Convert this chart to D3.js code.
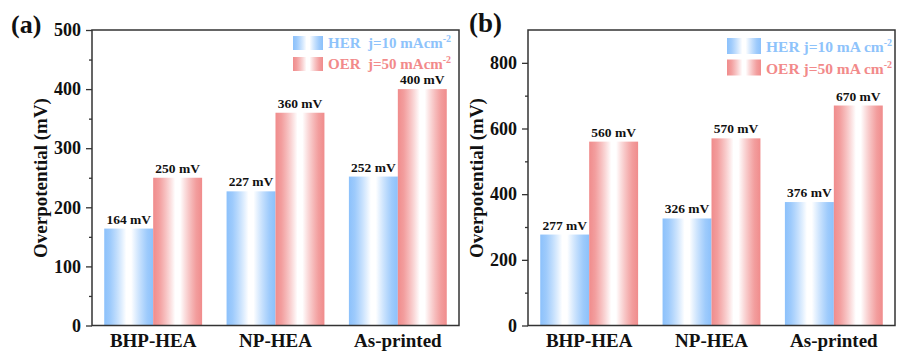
<!DOCTYPE html>
<html lang="en">
<head>
<meta charset="UTF-8">
<title>Overpotential bars</title>
<script src="https://d3js.org/d3.v7.min.js"></script>
<style>
  body { margin: 0; background: #fff; }
  text { font-family: "Liberation Serif", "Times New Roman", serif; font-weight: bold; }
</style>
</head>
<body>
<svg id="svg-container" width="897" height="353"></svg>
<script>
const categories = ["BHP-HEA", "NP-HEA", "As-printed"];
const herA = [164, 227, 252];
const oerA = [250, 360, 400];
const herB = [277, 326, 376];
const oerB = [560, 570, 670];
const ticksA = [0, 100, 200, 300, 400, 500];
const ticksB = [0, 200, 400, 600, 800];

const svg = d3.select("#svg-container");
const defs = svg.append("defs");

function makeGrad(id, col) {
    const g = defs.append("linearGradient").attr("id", id)
        .attr("x1", "0%").attr("x2", "100%").attr("y1", "0%").attr("y2", "0%");
    [[0, col, 1], [0.12, col, 0.85], [0.45, "#ffffff", 1], [0.55, "#ffffff", 1], [0.88, col, 0.85], [1, col, 1]]
        .forEach(s => g.append("stop").attr("offset", s[0]).attr("stop-color", s[1]).attr("stop-opacity", s[2]));
}
makeGrad("gHer", "#8cc1fb");
makeGrad("gOer", "#f08c8c");

const blueTxt = "#8ec3fb", redTxt = "#f28a8a";

function panel(opt) {
    const x = d3.scaleBand().domain(categories).range([opt.x0, opt.x1])
        .paddingInner(0.2).paddingOuter(0.1);
    const y = d3.scaleLinear().domain([0, opt.max]).range([325.5, 30]);
    const g = svg.append("g");

    // bars
    const bw = x.bandwidth() / 2;
    const series = [{vals: opt.her, fill: "url(#gHer)", off: 0}, {vals: opt.oer, fill: "url(#gOer)", off: bw}];
    series.forEach(s => {
        g.selectAll(null).data(categories).enter().append("rect")
            .attr("x", d => x(d) + s.off)
            .attr("y", (d, i) => y(s.vals[i]))
            .attr("width", bw)
            .attr("height", (d, i) => y(0) - y(s.vals[i]))
            .attr("fill", s.fill);
        g.selectAll(null).data(categories).enter().append("text")
            .attr("x", d => x(d) + s.off + bw / 2)
            .attr("y", (d, i) => y(s.vals[i]) - 5)
            .attr("text-anchor", "middle")
            .style("font-size", "13.5px")
            .attr("fill", "#111")
            .text((d, i) => s.vals[i] + " mV");
    });

    // frame
    g.append("rect").attr("x", opt.x0).attr("y", 30)
        .attr("width", opt.x1 - opt.x0).attr("height", 295.5)
        .attr("fill", "none").attr("stroke", "#333").attr("stroke-width", 1.5);

    // y axis with minor ticks
    const yAxis = g.append("g").attr("transform", `translate(${opt.x0},0)`)
        .call(d3.axisLeft(y).tickValues(opt.ticks).tickSize(6).tickPadding(5));
    yAxis.select(".domain").remove();
    yAxis.selectAll("line").attr("stroke", "#333").attr("stroke-width", 1.3);
    yAxis.selectAll("text").style("font-size", "18px").attr("fill", "#111")
        .style("font-family", '"Liberation Serif", serif');
    const minor = d3.range(opt.minor, opt.max, opt.minor * 2);
    g.append("g").attr("transform", `translate(${opt.x0},0)`)
        .call(d3.axisLeft(y).tickValues(minor).tickSize(3).tickFormat(""))
        .call(a => a.select(".domain").remove())
        .selectAll("line").attr("stroke", "#333").attr("stroke-width", 1.3);

    // x axis labels
    const xAxis = g.append("g").attr("transform", "translate(0,325.5)")
        .call(d3.axisBottom(x).tickSize(0).tickPadding(8));
    xAxis.select(".domain").remove();
    xAxis.selectAll("text").style("font-size", "19px").attr("fill", "#111")
        .style("font-family", '"Liberation Serif", serif');

    // y title
    g.append("text")
        .attr("transform", `translate(${opt.x0 - 45},178) rotate(-90)`)
        .attr("text-anchor", "middle")
        .style("font-size", "19px")
        .attr("fill", "#111")
        .text("Overpotential (mV)");

    // panel letter
    g.append("text").attr("x", opt.lx).attr("y", opt.ly)
        .style("font-size", opt.lsize).attr("fill", "#111").text(opt.letter);

    // legend
    const leg = opt.legend;
    [[leg.her, "url(#gHer)", blueTxt], [leg.oer, "url(#gOer)", redTxt]].forEach((l, i) => {
        g.append("rect").attr("x", leg.x).attr("y", leg.y + i * leg.gap)
            .attr("width", leg.w).attr("height", leg.h).attr("fill", l[1]);
        const t = g.append("text").attr("x", leg.x + leg.w + 5)
            .attr("y", leg.y + i * leg.gap + leg.h - 2)
            .style("font-size", leg.size).attr("fill", l[2])
            .attr("xml:space", "preserve");
        t.append("tspan").text(l[0]);
        t.append("tspan").attr("dy", -6).style("font-size", "10px").text("-2");
    });
}

panel({
    x0: 92, x1: 459, max: 500, ticks: ticksA, minor: 50, her: herA, oer: oerA,
    letter: "(a)", lx: 11, ly: 33, lsize: "26px",
    legend: {x: 293, y: 36, w: 30, h: 14, gap: 21, size: "15px",
        her: "HER  j=10 mAcm", oer: "OER  j=50 mAcm"}
});
panel({
    x0: 528, x1: 895, max: 900, ticks: ticksB, minor: 100, her: herB, oer: oerB,
    letter: "(b)", lx: 469, ly: 32, lsize: "27px",
    legend: {x: 727, y: 38, w: 34, h: 16, gap: 21.5, size: "15.5px",
        her: "HER j=10 mA cm", oer: "OER j=50 mA cm"}
});
</script>
</body>
</html>
